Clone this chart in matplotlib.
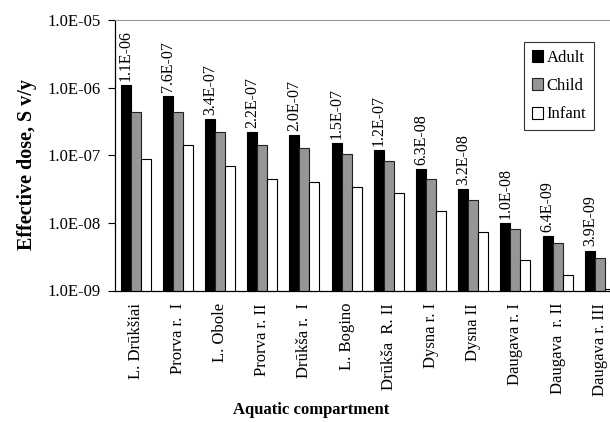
import matplotlib
matplotlib.use("Agg")
import matplotlib.pyplot as plt
import numpy as np

plt.rcParams['font.family'] = ['Liberation Serif', 'DejaVu Serif']

categories = ["L. Drūkšiai", "Prorva r.  I", "L. Obole", "Prorva r. II", "Drūkša r.  I",
              "L. Bogino", "Drūkša  R. II", "Dysna r. I", "Dysna II", "Daugava r. I",
              "Daugava  r. II", "Daugava r. III"]
adult = [1.1e-6, 7.6e-7, 3.4e-7, 2.2e-7, 2.0e-7, 1.5e-7, 1.2e-7, 6.3e-8, 3.2e-8, 1.0e-8, 6.4e-9, 3.9e-9]
child = [4.3e-7, 4.4e-7, 2.2e-7, 1.4e-7, 1.3e-7, 1.03e-7, 8.3e-8, 4.5e-8, 2.2e-8, 8.0e-9, 5.0e-9, 3.05e-9]
infant = [8.7e-8, 1.4e-7, 6.9e-8, 4.5e-8, 4.05e-8, 3.4e-8, 2.8e-8, 1.5e-8, 7.3e-9, 2.8e-9, 1.7e-9, 1.05e-9]
adult_labels = ["1.1E-06", "7.6E-07", "3.4E-07", "2.2E-07", "2.0E-07", "1.5E-07", "1.2E-07",
                "6.3E-08", "3.2E-08", "1.0E-08", "6.4E-09", "3.9E-09"]
yticks = [1e-9, 1e-8, 1e-7, 1e-6, 1e-5]
ytick_labels = ["1.0E-09", "1.0E-08", "1.0E-07", "1.0E-06", "1.0E-05"]

W, H = 610, 422
fig = plt.figure(figsize=(W / 100, H / 100), dpi=100)
left_px, right_px, top_px, bottom_px = 114.5, 621, 20, 290.5
ax = fig.add_axes([left_px / W, 1 - bottom_px / H, (right_px - left_px) / W, (bottom_px - top_px) / H])

x = np.arange(len(categories))
w = 0.237
ax.bar(x - w, adult, w, color='black', edgecolor='black', linewidth=0.8, label='Adult')
ax.bar(x, child, w, color='#969696', edgecolor='#222222', linewidth=0.8, label='Child')
ax.bar(x + w, infant, w, color='white', edgecolor='black', linewidth=0.8, label='Infant')

ax.set_yscale('log')
ax.set_ylim(1e-9, 1e-5)
ax.set_xlim(-0.5, len(categories) - 0.5)
ax.set_yticks(yticks)
ax.set_yticklabels(ytick_labels, fontsize=12)
ax.minorticks_off()
ax.tick_params(axis='y', direction='out', length=5, width=0.8, pad=5)
ax.set_xticks(x)
ax.set_xticklabels(categories, rotation=90, fontsize=12, va='top', ha='center')
ax.tick_params(axis='x', length=0, pad=9)

for xi, v, lab in zip(x, adult, adult_labels):
    ax.annotate(lab, (xi - w, v), xytext=(0, 3), textcoords='offset points',
                rotation=90, ha='center', va='bottom', fontsize=11.5)

ax.spines['right'].set_visible(False)
ax.spines['top'].set_color('#999999')
ax.spines['left'].set_linewidth(0.9)
ax.spines['bottom'].set_linewidth(0.9)

fig.text(27 / W, 1 - 165 / H, 'Effective dose, S v/y', fontsize=14.5, fontweight='bold',
         ha='center', va='center', rotation=90)
fig.text(311 / W, 1 - 410 / H, 'Aquatic compartment', fontsize=12, fontweight='bold',
         ha='center', va='center')

leg = ax.legend(loc='upper left', bbox_to_anchor=((524 - left_px) / (right_px - left_px),
                1 - (42 - top_px) / (bottom_px - top_px)),
                fontsize=12, frameon=True, fancybox=False, edgecolor='black',
                handlelength=0.7, handleheight=0.7, handletextpad=0.2, borderpad=0.45,
                labelspacing=0.75, borderaxespad=0)
leg.get_frame().set_linewidth(0.8)

fig.savefig('out.png', dpi=100)
